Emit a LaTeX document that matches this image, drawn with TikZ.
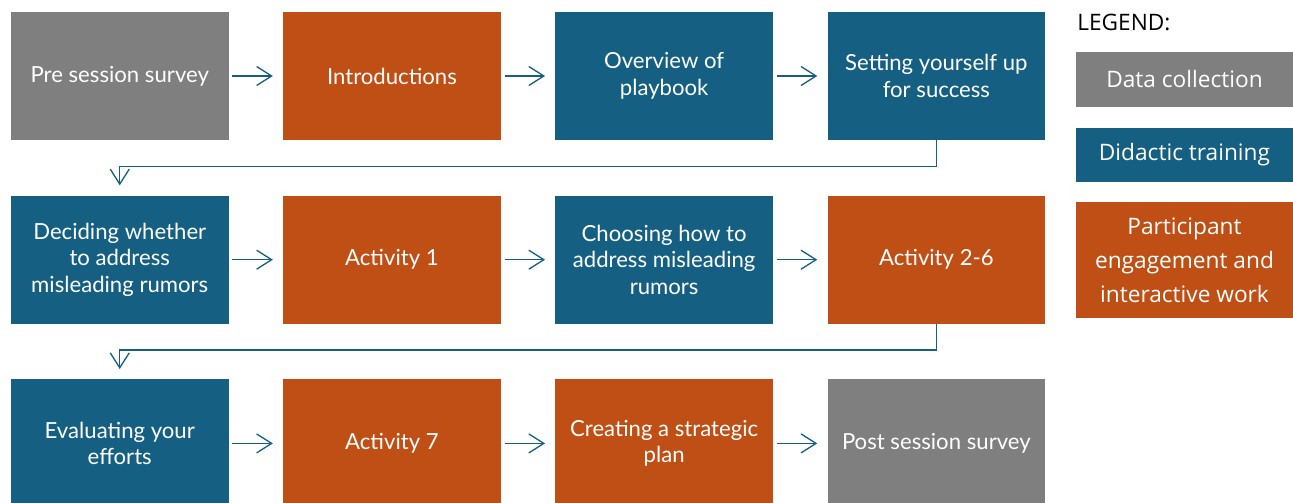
\documentclass[tikz,border=0pt]{standalone}
\usepackage{fontspec}
\setmainfont{Lato}
\newfontfamily\legendfont{Open Sans}
\usepackage{xcolor}
\usetikzlibrary{arrows.meta, positioning}
\definecolor{datagray}{HTML}{7F7F7F}
\definecolor{teachblue}{HTML}{156082}
\definecolor{workorange}{HTML}{C04F15}
\tikzset{
  block/.style={rectangle, fill=teachblue, text=white, minimum width=4.35cm,
                minimum height=2.56cm, align=center, inner sep=0pt,
                font=\fontsize{12.6}{15}\selectfont},
  datablock/.style={block, fill=datagray},
  teachblock/.style={block, fill=teachblue},
  workblock/.style={block, fill=workorange},
  arrow/.style={-{Straight Barb[length=3mm, width=3.8mm]}, line width=0.75pt, draw=teachblue},
  legendbox/.style={rectangle, text=white, minimum width=4.34cm, align=center,
                    inner sep=0pt, font=\legendfont\fontsize{12.9}{19.3}\selectfont},
}

\begin{document}
\begin{tikzpicture}[node distance=1.1cm and 1.08cm]
  \useasboundingbox (0,0) rectangle (25.86,10.04);

  %% Row 1
  \node[datablock] (presurvey) at (2.395,8.52) {Pre session survey};
  \node[workblock, right=of presurvey] (intro) {Introductions};
  \node[teachblock, right=of intro] (overview) {Overview of\\playbook};
  \node[teachblock, right=of overview] (setup) {Setting yourself up\\for success};

  %% Row 2
  \node[teachblock, below=of presurvey] (decide) {Deciding whether\\to address\\misleading rumors};
  \node[workblock, right=of decide] (act1) {Activity 1};
  \node[teachblock, right=of act1] (choose) {Choosing how to\\address misleading\\rumors};
  \node[workblock, right=of choose] (act26) {Activity 2-6};

  %% Row 3
  \node[teachblock, below=of decide] (evaluate) {Evaluating your\\efforts};
  \node[workblock, right=of evaluate] (act7) {Activity 7};
  \node[workblock, right=of act7] (plan) {Creating a strategic\\plan};
  \node[datablock, right=of plan] (postsurvey) {Post session survey};

  \draw[arrow] ([xshift=2pt]presurvey.east) -- ([xshift=-0.2cm]intro.west);
  \draw[arrow] ([xshift=2pt]intro.east) -- ([xshift=-0.2cm]overview.west);
  \draw[arrow] ([xshift=2pt]overview.east) -- ([xshift=-0.2cm]setup.west);
  \draw[arrow] (setup.south) -- ++(0,-0.52) -| ([yshift=0.2cm]decide.north);

  \draw[arrow] ([xshift=2pt]decide.east) -- ([xshift=-0.2cm]act1.west);
  \draw[arrow] ([xshift=2pt]act1.east) -- ([xshift=-0.2cm]choose.west);
  \draw[arrow] ([xshift=2pt]choose.east) -- ([xshift=-0.2cm]act26.west);
  \draw[arrow] (act26.south) -- ++(0,-0.52) -| ([yshift=0.2cm]evaluate.north);

  \draw[arrow] ([xshift=2pt]evaluate.east) -- ([xshift=-0.2cm]act7.west);
  \draw[arrow] ([xshift=2pt]act7.east) -- ([xshift=-0.2cm]plan.west);
  \draw[arrow] ([xshift=2pt]plan.east) -- ([xshift=-0.2cm]postsurvey.west);

  %% Legend
  \node[anchor=west, inner sep=0pt, font=\legendfont\fontsize{12.9}{15}\selectfont] (legend) at (21.54,9.6) {LEGEND:};
  \node[legendbox, fill=datagray, minimum height=1.1cm] (keydata) at (23.69,8.45) {Data collection};
  \node[legendbox, fill=teachblue, minimum height=1.08cm, below=0.4cm of keydata] (keyteach) {Didactic training};
  \node[legendbox, fill=workorange, minimum height=2.32cm, below=0.4cm of keyteach] (keywork) {Participant\\engagement and\\interactive work};
\end{tikzpicture}
\end{document}
